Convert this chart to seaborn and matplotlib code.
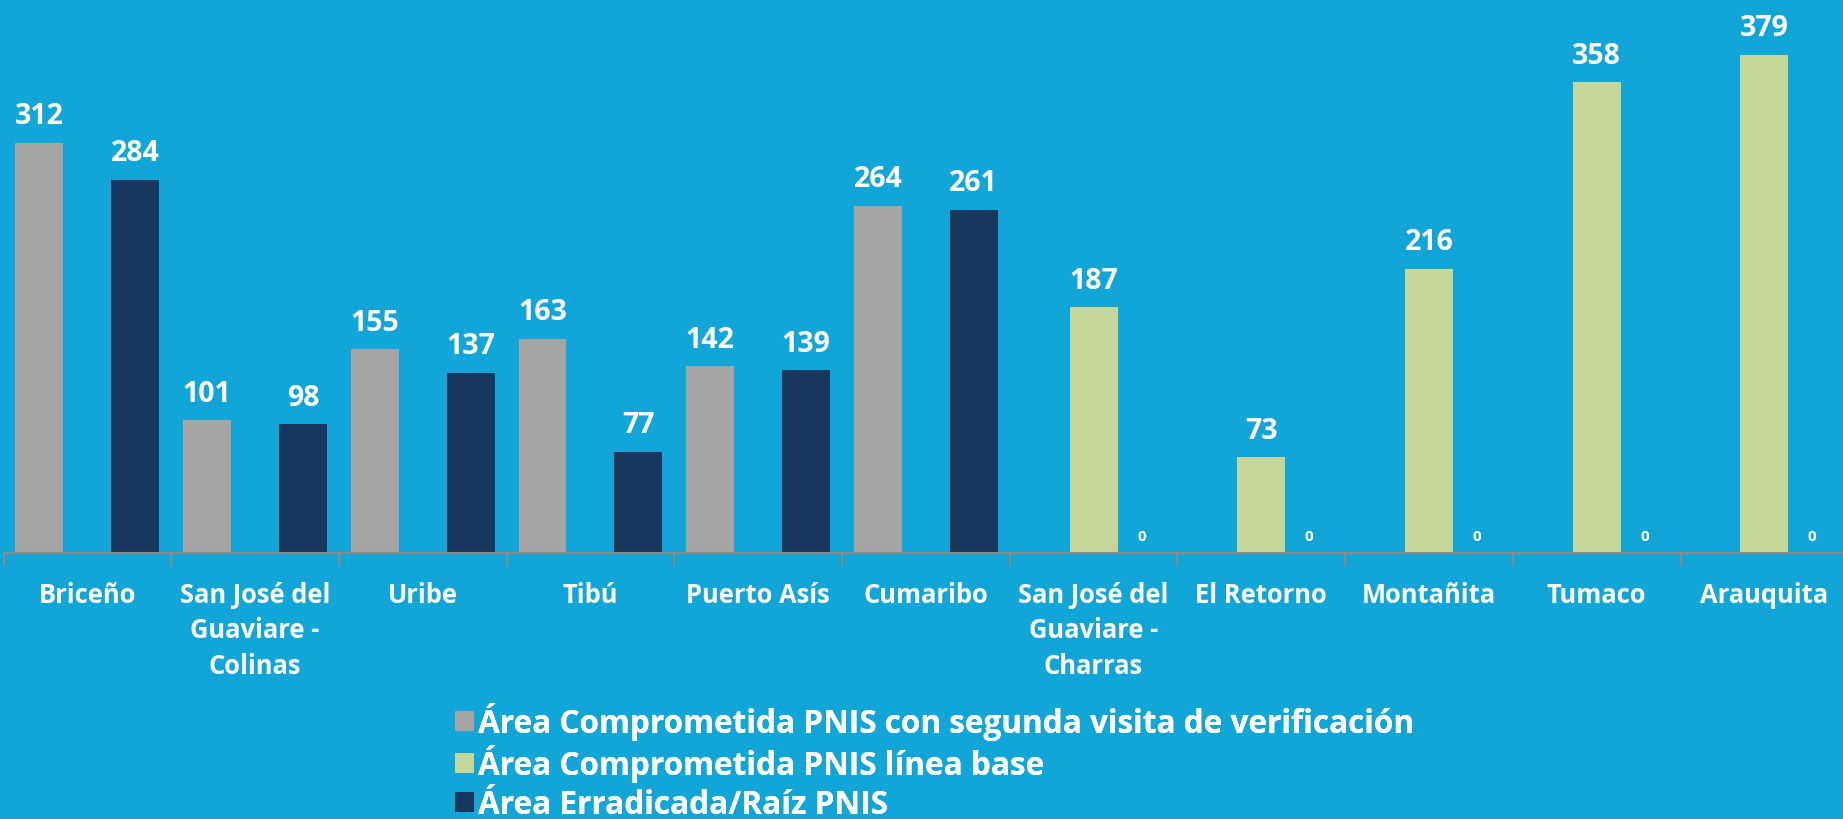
import numpy as np
import pandas as pd
import matplotlib
matplotlib.use("Agg")
import matplotlib.pyplot as plt
from matplotlib.patches import Patch
import seaborn as sns

# data
municipios = ["Briceño", "San José del\nGuaviare -\nColinas", "Uribe", "Tibú", "Puerto Asís",
              "Cumaribo", "San José del\nGuaviare -\nCharras", "El Retorno", "Montañita",
              "Tumaco", "Arauquita"]
series = ["Área Comprometida PNIS con segunda visita de verificación",
          "Área Comprometida PNIS línea base",
          "Área Erradicada/Raíz PNIS"]
segunda_visita = [312, 101, 155, 163, 142, 264, None, None, None, None, None]
linea_base = [None, None, None, None, None, None, 187, 73, 216, 358, 379]
erradicada = [284, 98, 137, 77, 139, 261, 0, 0, 0, 0, 0]
colores = ["#A5A5A5", "#C4D79B", "#17375E"]
bg = "#11A6D7"

rows = []
for s, vals in zip(series, [segunda_visita, linea_base, erradicada]):
    for m, v in zip(municipios, vals):
        if v is not None:
            rows.append({"municipio": m, "serie": s, "valor": v})
df = pd.DataFrame(rows)

sns.set_theme(style="white")
plt.rcParams["font.family"] = ["Open Sans", "DejaVu Sans"]
plt.rcParams["font.weight"] = "bold"

W, H = 1843, 820
fig = plt.figure(figsize=(W / 100, H / 100), dpi=100, facecolor=bg)
ax = fig.add_axes([3.5 / W, 266 / H, 11 * 167.7 / W, 554 / H])
ax.set_facecolor(bg)

sns.barplot(data=df, x="municipio", y="valor", hue="serie", order=municipios,
            hue_order=series, palette=colores, width=0.857, saturation=1,
            legend=False, ax=ax, errorbar=None, linewidth=0, edgecolor="none")

ax.set_ylim(0, 554 / 1.315)
ax.set_xlim(-0.5, len(municipios) - 0.5)

for cont in ax.containers:
    vals = cont.datavalues
    texts = ax.bar_label(cont, labels=[f"{v:.0f}" for v in vals], padding=9,
                         color="white", fontsize=20.5, fontweight="bold")
    for t, v in zip(texts, vals):
        if v == 0:
            t.set_fontsize(11)
            t.xyann = (0, 7)

for side in ["top", "right", "left"]:
    ax.spines[side].set_visible(False)
ax.spines["bottom"].set_color("#8A8A8A")
ax.spines["bottom"].set_linewidth(1.5)
ax.set_yticks([])
ax.set_xlabel("")
ax.set_ylabel("")
ax.set_xticks(np.arange(len(municipios)))
ax.set_xticklabels(municipios, color="white", fontsize=18.4, fontweight="bold", linespacing=1.4)
ax.tick_params(axis="x", which="major", length=0, pad=20)
ax.set_xticks(np.arange(len(municipios) + 1) - 0.5, minor=True)
ax.tick_params(axis="x", which="minor", bottom=True, length=9, width=1.5,
               color="#8A8A8A", direction="out")

# one legend per row so the rows are evenly spaced
row_y = [722, 764, 806]
for c, s, y in zip(colores, series, row_y):
    leg = fig.legend([Patch(facecolor=c, edgecolor="none")], [s], loc="center left",
                     bbox_to_anchor=(455 / W, 1 - y / H), frameon=False,
                     handlelength=0.6, handleheight=0.6, handletextpad=0.12,
                     borderpad=0, borderaxespad=0, labelcolor="white",
                     prop={"weight": "bold", "size": 22.7})
    fig.add_artist(leg)

fig.savefig("out.png", dpi=100, facecolor=bg)
